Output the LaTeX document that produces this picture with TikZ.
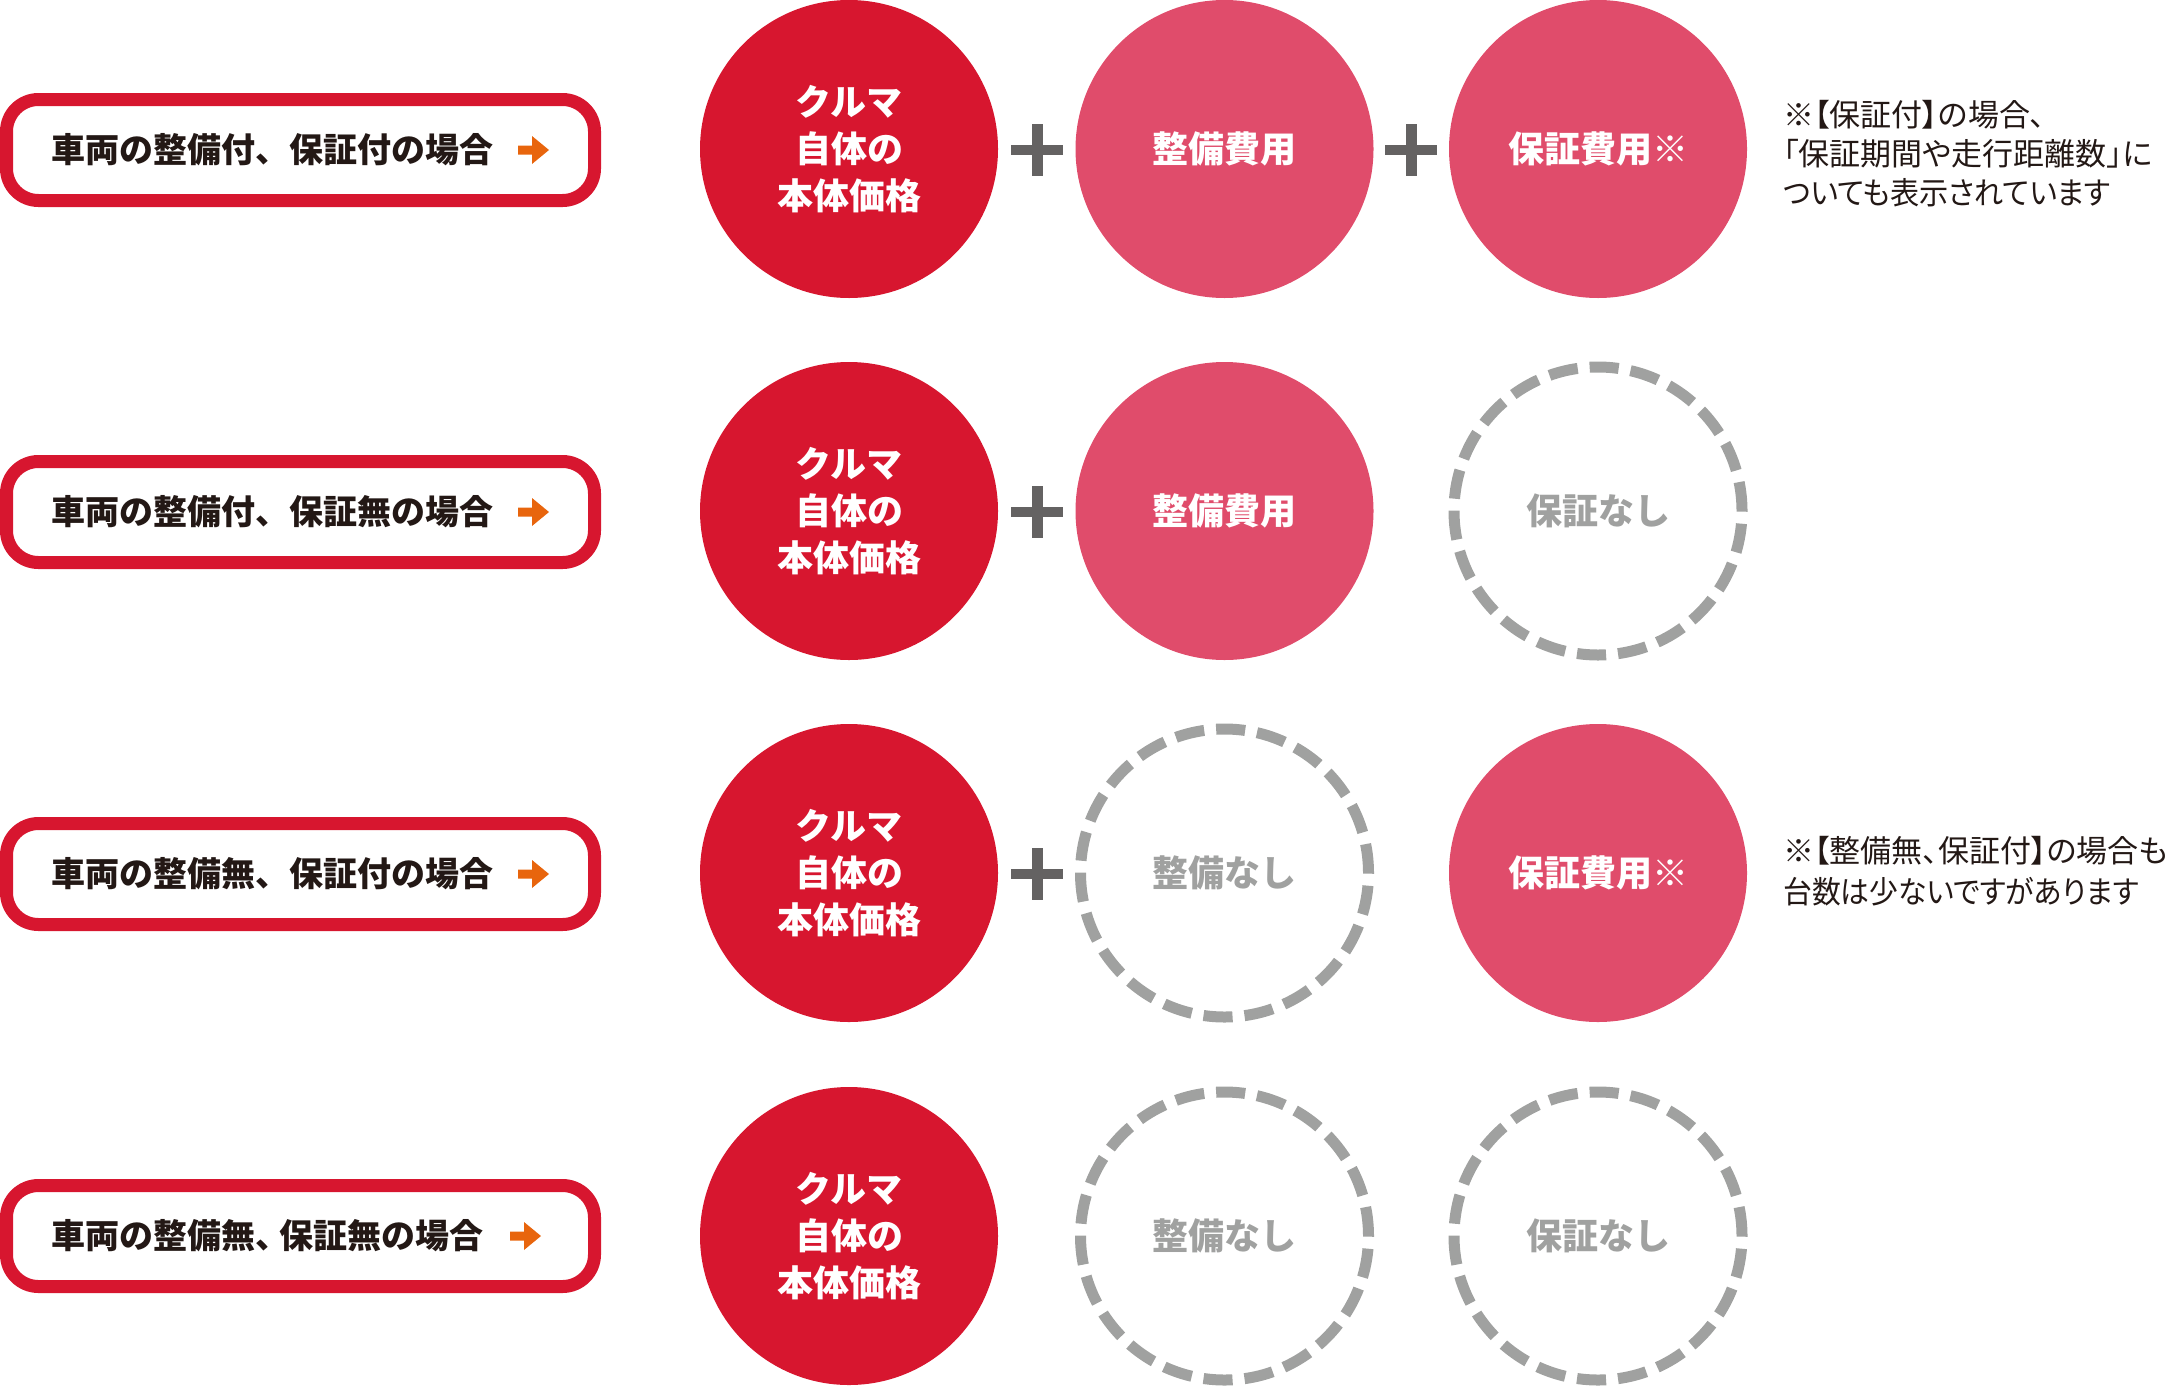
\documentclass[tikz,border=0pt]{standalone}
\usepackage{fontspec}
\usepackage{graphicx}
\setmainfont{Noto Sans CJK JP}
\newfontfamily\notefont{Noto Sans CJK JP}[RawFeature=+palt]
\definecolor{redc}{RGB}{215,22,47}
\definecolor{pinkc}{RGB}{224,76,107}
\definecolor{grayc}{RGB}{160,161,160}
\definecolor{plusc}{RGB}{100,98,98}
\definecolor{darkc}{RGB}{35,24,21}
\definecolor{orangec}{RGB}{232,101,13}
\tikzset{
  labelbox/.style={draw=redc, line width=13pt, rounded corners=32pt, minimum width=588pt, minimum height=101pt, inner sep=0pt},
  labeltext/.style={anchor=west, inner sep=0pt, text=darkc, font=\bfseries\fontsize{34}{40}\selectfont},
  redcirc/.style={circle, fill=redc, minimum size=298pt, inner sep=0pt, text=white, align=center, font=\bfseries\fontsize{36}{47}\selectfont},
  pinkcirc/.style={circle, fill=pinkc, minimum size=298pt, inner sep=0pt, text=white, align=center, font=\bfseries\fontsize{36}{47}\selectfont},
  nocirc/.style={circle, draw=grayc, line width=11pt, dash pattern=on 29.1pt off 12pt, minimum size=288pt, inner sep=0pt, text=grayc, align=center, font=\bfseries\fontsize{36}{47}\selectfont},
  notetext/.style={anchor=west, inner sep=0pt, text=darkc, align=left, font=\notefont\fontsize{31}{39}\selectfont},
  plusshape/.style={fill=plusc},
  arrowshape/.style={fill=orangec}
}
\newcommand\drawplusat[2]{%
  \fill[plusshape] (#1-26,#2-5) rectangle (#1+26,#2+5);
  \fill[plusshape] (#1-5.5,#2-26) rectangle (#1+5.5,#2+26);
}
\newcommand\drawarrowat[2]{%
  \fill[arrowshape] (#1,#2-4.5) -- (#1+14,#2-4.5) -- (#1+14,#2-14) -- (#1+31,#2) -- (#1+14,#2+14) -- (#1+14,#2+4.5) -- (#1,#2+4.5) -- cycle;
}
\begin{document}
\begin{tikzpicture}[x=1pt,y=-1pt]
\useasboundingbox (0,0) rectangle (2167,1387);
% row 1
\node[labelbox] (b1) at (300.5,150) {};
\node[labeltext] (t1) at (51,150) {車両の整備付、保証付の場合};
\drawarrowat{518}{150}
\node[redcirc] (c11) at (849,149) {クルマ\\自体の\\本体価格};
\node[pinkcirc] (c12) at (1224.5,149) {整備費用};
\node[pinkcirc] (c13) at (1598,149) {保証費用※};
\drawplusat{1037}{150}
\drawplusat{1411}{150}
\node[notetext] (n1) at (1783,154) {※【保証付】の場合、\\「保証期間や走行距離数」に\\\scalebox{0.94}[1]{ついても表示されています}};
% row 2
\node[labelbox] (b2) at (300.5,512) {};
\node[labeltext] (t2) at (51,512) {車両の整備付、保証無の場合};
\drawarrowat{518}{512}
\node[redcirc] (c21) at (849,511) {クルマ\\自体の\\本体価格};
\node[pinkcirc] (c22) at (1224.5,511) {整備費用};
\node[nocirc] (c23) at (1598,511) {保証なし};
\drawplusat{1037}{512}
% row 3
\node[labelbox] (b3) at (300.5,874) {};
\node[labeltext] (t3) at (51,874) {車両の整備無、保証付の場合};
\drawarrowat{518}{874}
\node[redcirc] (c31) at (849,873) {クルマ\\自体の\\本体価格};
\node[nocirc] (c32) at (1224.5,873) {整備なし};
\node[pinkcirc] (c33) at (1598,873) {保証費用※};
\drawplusat{1037}{874}
\node[notetext, font=\notefont\fontsize{31}{41}\selectfont] (n3) at (1783,871) {※【整備無、保証付】の場合も\\\scalebox{0.93}[1]{台数は少ないですがあります}};
% row 4
\node[labelbox] (b4) at (300.5,1236) {};
\node[labeltext] (t4) at (51,1236) {車両の整備無、\hspace{-10pt}保証無の場合};
\drawarrowat{510}{1236}
\node[redcirc] (c41) at (849,1236) {クルマ\\自体の\\本体価格};
\node[nocirc] (c42) at (1224.5,1236) {整備なし};
\node[nocirc] (c43) at (1598,1236) {保証なし};
\end{tikzpicture}
\end{document}
